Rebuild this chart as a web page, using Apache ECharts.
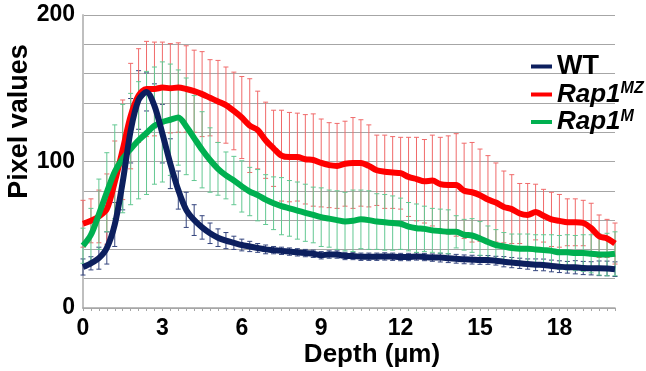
<!DOCTYPE html>
<html>
<head>
<meta charset="utf-8">
<script src="https://cdn.jsdelivr.net/npm/echarts@6/dist/echarts.min.js"></script>
<style>
  html, body { margin: 0; padding: 0; background: #fff; }
  #chart { width: 646px; height: 371px; }
</style>
</head>
<body>
<div id="chart"></div>
<script>
// depth in µm, one category per measured slice
const depths = [
  '0', '0.3', '0.6', '0.9', '1.2', '1.5', '1.8', '2.1', '2.4', '2.7',
  '3', '3.3', '3.6', '3.9', '4.2', '4.5', '4.8', '5.1', '5.4', '5.7',
  '6', '6.3', '6.6', '6.9', '7.2', '7.5', '7.8', '8.1', '8.4', '8.7',
  '9', '9.3', '9.6', '9.9', '10.2', '10.5', '10.8', '11.1', '11.4', '11.7',
  '12', '12.3', '12.6', '12.9', '13.2', '13.5', '13.8', '14.1', '14.4', '14.7',
  '15', '15.3', '15.6', '15.9', '16.2', '16.5', '16.8', '17.1', '17.4', '17.7',
  '18', '18.3', '18.6', '18.9', '19.2', '19.5', '19.8', '20.1'
];

const wtMean = [
  28, 30.5, 34, 41, 57, 86, 121, 142, 147.5, 138,
  119, 98.5, 80.5, 67, 60, 55, 51, 48, 46, 44.5,
  43, 42, 41, 40, 39.5, 39, 38.5, 38, 37.5, 37,
  36, 36.5, 36.5, 35.5, 35.5, 35, 35, 35, 35.2, 35,
  34.8, 34.8, 35.2, 34.8, 34.4, 34.4, 34, 33.6, 33.2, 33,
  32.8, 32.8, 32.3, 31.6, 31, 30.5, 30, 29.5, 29.4, 28.7,
  28.2, 27.8, 27.8, 27.3, 27.1, 27.1, 27, 26.5
];
const wtSd = [
  5.5, 4.5, 7.5, 11, 15, 19, 22, 20, 13, 15,
  20, 17, 13, 12, 10.5, 8, 7, 6, 5.5, 4.5,
  4, 3.5, 3, 3, 2.5, 2.5, 2.5, 2.5, 2.5, 2.5,
  2.5, 2.5, 2.5, 2.5, 2.5, 2.5, 2.5, 2.5, 2.5, 2.5,
  2.5, 2.5, 2.5, 2.5, 2.5, 3, 3, 3, 3, 3,
  3, 3, 3, 3.5, 3.5, 3.5, 3.5, 4, 4, 4,
  4, 4, 4.5, 4.5, 4.5, 5, 5, 5
];

const mzMean = [
  57.5, 59.5, 62.5, 67.5, 86, 108, 131, 145, 149.5, 149.5,
  150.5, 150, 150.5, 149.5, 148, 146, 143.5, 141, 138.5, 134.5,
  130, 124.5, 121.5, 114.5, 109, 104, 103, 103, 101.5, 101,
  99, 97.5, 97, 98.5, 99, 99, 97, 94, 93, 92.5,
  92, 89.5, 88, 86.5, 87, 84.5, 84, 84, 80, 79,
  77, 74, 72, 69, 67.5, 64.5, 63.5, 65.5, 63, 60.5,
  59.5, 58.5, 58.5, 58, 54.5, 49, 47.5, 44
];
const mzSd = [
  16, 15, 18, 24, 28, 34, 36, 32, 32.5, 32,
  31, 30.5, 30.5, 29.5, 28, 29, 26, 28, 26, 26.5,
  28, 32, 26.5, 26, 26, 31, 30.5, 30, 30.5, 31.5,
  30, 29, 29, 29, 31, 29.5, 28, 24, 25, 24.5,
  24.5, 27, 28.5, 28.5, 31, 32, 33.5, 35, 32.5, 34,
  31.5, 30, 27, 24.5, 23.5, 20.5, 21.5, 19, 18, 18.5,
  18, 16, 16, 15.5, 17, 14.5, 13, 14
];

const mMean = [
  42.5, 50, 64, 79, 93, 102, 108.5, 114.5, 119.5, 124.5,
  127, 128.5, 130, 124, 116, 108, 101, 95, 90.5, 87,
  83, 79.5, 77, 74, 71.5, 69.5, 68, 66.5, 65, 63.5,
  62, 61, 60, 59, 59.5, 60.5, 60, 59, 58.5, 58,
  57.5, 55.5, 54.5, 54, 53, 52.5, 52, 52, 50, 49.5,
  47.5, 45, 43, 42, 41, 40.5, 40.5, 40, 39.5, 39,
  38, 38, 37.5, 37.5, 37, 36.5, 36.5, 37
];
const mSd = [
  12, 18, 24, 27, 32, 37, 38, 40, 42, 40,
  41, 38, 32.5, 33, 29, 26, 22, 18, 16, 16.5,
  17.5, 16.5, 17.5, 17, 18, 19.5, 19, 19.5, 19.5, 19,
  20, 19.5, 20, 20, 21, 20, 20, 19, 19, 18.5,
  17.5, 16.5, 16.5, 15.5, 15, 15, 15, 11, 10.5, 11.5,
  11.5, 11, 10.5, 9.5, 9.5, 10, 10, 10, 10.5, 11,
  11.5, 12, 12, 12.5, 13, 14, 14.5, 15
];

const yTicks = [0, 100, 200];

const FONT = '"Liberation Sans", Arial, sans-serif';

function bars(mean, sd) {
  return mean.map((v, i) => [i, v - sd[i], v + sd[i]]);
}

function errorBar(params, api) {
  const x = api.value(0);
  const lo = api.coord([x, api.value(1)]);
  const hi = api.coord([x, api.value(2)]);
  const w = 2.5;
  const style = { stroke: api.visual('color'), lineWidth: 1 };
  return {
    type: 'group',
    children: [
      { type: 'line', shape: { x1: lo[0], y1: lo[1], x2: hi[0], y2: hi[1] }, style: style },
      { type: 'line', shape: { x1: hi[0] - w, y1: hi[1], x2: hi[0] + w, y2: hi[1] }, style: style },
      { type: 'line', shape: { x1: lo[0] - w, y1: lo[1], x2: lo[0] + w, y2: lo[1] }, style: style }
    ]
  };
}

const chart = echarts.init(document.getElementById('chart'));

chart.setOption({
  animation: false,
  grid: { left: 83, right: 31, top: 15, bottom: 63, containLabel: false, outerBoundsMode: 'none' },
  legend: {
    orient: 'vertical',
    left: 526,
    top: 48,
    itemWidth: 21,
    itemHeight: 4,
    itemGap: 1,
    icon: 'rect',
    data: ['WT', 'Rap1MZ', 'Rap1M'],
    formatter: (name) => {
      if (name === 'WT') return '{b|WT}';
      return '{i|Rap1}{s|' + name.slice(4) + '}';
    },
    textStyle: {
      rich: {
        b: { fontFamily: FONT, fontWeight: 'bold', fontSize: 27, lineHeight: 27, color: '#000' },
        i: { fontFamily: FONT, fontWeight: 'bold', fontStyle: 'italic', fontSize: 26, lineHeight: 27, color: '#000' },
        s: { fontFamily: FONT, fontWeight: 'bold', fontStyle: 'italic', fontSize: 16, lineHeight: 16, verticalAlign: 'top', color: '#000' }
      }
    }
  },
  xAxis: {
    type: 'category',
    data: depths,
    boundaryGap: false,
    name: 'Depth (µm)',
    nameLocation: 'middle',
    nameGap: 34,
    nameMoveOverlap: false,
    nameTextStyle: { fontFamily: FONT, fontWeight: 'bold', fontSize: 26, color: '#000', padding: [0, 0, 0, 46] },
    axisLine: { lineStyle: { color: '#a6a6a6', width: 1.5 } },
    axisTick: { show: true, interval: 0, length: 3, lineStyle: { color: '#a6a6a6' } },
    axisLabel: { interval: 9, margin: 9, fontFamily: FONT, fontWeight: 'bold', fontSize: 23, color: '#000' },
    splitLine: { show: false }
  },
  yAxis: {
    type: 'value',
    min: 0,
    max: 200,
    interval: 20,
    name: 'Pixel values',
    nameLocation: 'middle',
    nameGap: 50,
    nameMoveOverlap: false,
    nameTextStyle: { fontFamily: FONT, fontWeight: 'bold', fontSize: 27, color: '#000', padding: [0, 0, 0, 80] },
    axisLine: { show: true, lineStyle: { color: '#bfbfbf', width: 2 } },
    axisTick: { show: false },
    axisLabel: {
      margin: 8,
      fontFamily: FONT, fontWeight: 'bold', fontSize: 23, color: '#000',
      formatter: (v) => (yTicks.indexOf(v) >= 0 ? String(v) : '')
    },
    splitLine: { lineStyle: { color: '#a6a6a6', width: 1 } }
  },
  series: [
    {
      name: 'WT err', type: 'custom', renderItem: errorBar, z: 1,
      itemStyle: { color: '#34457e' },
      encode: { x: 0, y: [1, 2] },
      data: bars(wtMean, wtSd)
    },
    {
      name: 'Rap1MZ err', type: 'custom', renderItem: errorBar, z: 1,
      itemStyle: { color: '#f06a6a' },
      encode: { x: 0, y: [1, 2] },
      data: bars(mzMean, mzSd)
    },
    {
      name: 'Rap1M err', type: 'custom', renderItem: errorBar, z: 1,
      itemStyle: { color: '#63c892' },
      encode: { x: 0, y: [1, 2] },
      data: bars(mMean, mSd)
    },
    {
      name: 'Rap1MZ', type: 'line', data: mzMean, z: 3,
      smooth: 0.3, showSymbol: false,
      itemStyle: { color: '#ff0000' },
      lineStyle: { color: '#ff0000', width: 6 }
    },
    {
      name: 'Rap1M', type: 'line', data: mMean, z: 4,
      smooth: 0.3, showSymbol: false,
      itemStyle: { color: '#00b050' },
      lineStyle: { color: '#00b050', width: 6 }
    },
    {
      name: 'WT', type: 'line', data: wtMean, z: 5,
      smooth: 0.3, showSymbol: false,
      itemStyle: { color: '#0c1f5e' },
      lineStyle: { color: '#0c1f5e', width: 6 }
    }
  ]
});
</script>
</body>
</html>
